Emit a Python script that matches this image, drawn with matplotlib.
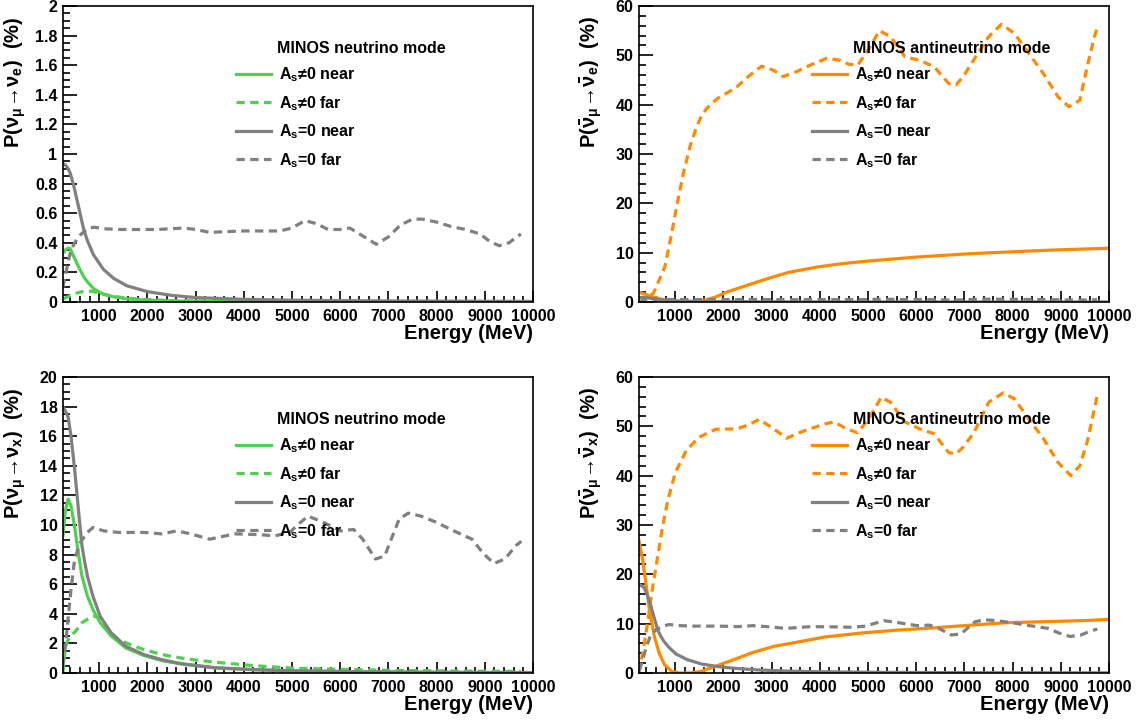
import matplotlib
matplotlib.use("Agg")
import matplotlib.pyplot as plt
from matplotlib.ticker import MultipleLocator, FuncFormatter

plt.rcParams['font.family'] = ['Liberation Sans', 'DejaVu Sans']
plt.rcParams['font.weight'] = 'bold'
plt.rcParams['mathtext.fontset'] = 'custom'
plt.rcParams['mathtext.rm'] = 'Liberation Sans:bold'
plt.rcParams['mathtext.it'] = 'Liberation Sans:bold'
plt.rcParams['mathtext.bf'] = 'Liberation Sans:bold'

# ---------------- data ----------------
# neutrino mode, nu_mu -> nu_e (%)
E_e_gnear = [250, 300, 360, 400, 470, 540, 610, 680, 760, 880, 1000, 1090, 1300, 1570, 1800, 2200, 2700, 3500, 5000, 7000, 10000]
P_e_gnear = [0.33, 0.35, 0.365, 0.36, 0.31, 0.26, 0.215, 0.17, 0.135, 0.092, 0.068, 0.052, 0.035, 0.022, 0.016, 0.010, 0.006, 0.004, 0.002, 0.001, 0.0005]
E_e_gfar = [250, 350, 450, 550, 650, 750, 850, 950, 1100, 1300, 1600, 2000, 2500, 3000, 4000, 6000, 9750]
P_e_gfar = [0.02, 0.035, 0.05, 0.062, 0.07, 0.074, 0.072, 0.065, 0.052, 0.038, 0.025, 0.016, 0.01, 0.007, 0.004, 0.002, 0.001]
E_e_near0 = [250, 300, 350, 400, 470, 540, 610, 680, 750, 880, 1090, 1300, 1570, 2000, 2500, 3000, 4000, 5000, 7000, 10000]
P_e_near0 = [0.935, 0.925, 0.905, 0.87, 0.79, 0.69, 0.59, 0.49, 0.42, 0.32, 0.22, 0.16, 0.11, 0.07, 0.045, 0.03, 0.018, 0.012, 0.007, 0.004]
E_e_far0 = [250, 300, 350, 400, 460, 530, 600, 700, 800, 900, 1100, 1400, 1800, 2200, 2500, 2750, 3000, 3300, 3600, 4000, 4400, 4750, 5000, 5270, 5500, 5750, 6000, 6200, 6450, 6750, 7000, 7250, 7500, 7700, 8000, 8300, 8600, 8900, 9100, 9300, 9500, 9750]
P_e_far0 = [0.10, 0.18, 0.26, 0.33, 0.38, 0.42, 0.45, 0.48, 0.50, 0.505, 0.495, 0.49, 0.49, 0.49, 0.495, 0.50, 0.49, 0.47, 0.475, 0.48, 0.48, 0.48, 0.50, 0.55, 0.53, 0.49, 0.49, 0.50, 0.45, 0.39, 0.44, 0.52, 0.56, 0.56, 0.54, 0.51, 0.49, 0.46, 0.41, 0.38, 0.40, 0.46]

# neutrino mode, nu_mu -> nu_x (%)
E_x_gnear = [250, 300, 356, 416, 490, 568, 643, 757, 870, 1020, 1250, 1550, 1930, 2300, 2700, 3400, 4200, 5000, 6500, 8000, 10000]
P_x_gnear = [9.3, 11.0, 11.75, 11.3, 9.9, 8.1, 6.55, 5.2, 4.3, 3.4, 2.5, 1.7, 1.18, 0.84, 0.61, 0.34, 0.22, 0.14, 0.07, 0.04, 0.02]
E_x_gfar = [250, 303, 350, 416, 530, 643, 795, 908, 1000, 1100, 1250, 1400, 1700, 1930, 2300, 2686, 3000, 3442, 4199, 4955, 5700, 7000, 8500, 9750]
P_x_gfar = [0.0, 1.8, 2.2, 2.5, 2.9, 3.4, 3.7, 3.85, 3.7, 3.2, 2.7, 2.26, 1.85, 1.58, 1.25, 1.02, 0.88, 0.72, 0.50, 0.34, 0.27, 0.18, 0.13, 0.11]
E_x_near0 = [250, 300, 356, 416, 490, 568, 643, 700, 757, 870, 1020, 1250, 1550, 1930, 2300, 2700, 3400, 4200, 5000, 6500, 8000, 10000]
P_x_near0 = [17.97, 17.7, 17.3, 16.0, 13.8, 11.1, 8.6, 7.5, 6.55, 5.2, 3.84, 2.71, 1.81, 1.24, 0.90, 0.63, 0.36, 0.23, 0.15, 0.08, 0.05, 0.03]
E_x_far0 = [250, 300, 341, 416, 492, 605, 757, 870, 1000, 1100, 1400, 1930, 2300, 2610, 2900, 3290, 3820, 4300, 4650, 4955, 5150, 5333, 5636, 6014, 6279, 6468, 6733, 6922, 7224, 7413, 7678, 7980, 8358, 8736, 8963, 9190, 9417, 9644, 9758]
P_x_far0 = [0.5, 1.8, 3.2, 5.65, 7.7, 8.8, 9.5, 9.83, 9.7, 9.6, 9.5, 9.5, 9.4, 9.6, 9.4, 9.04, 9.4, 9.35, 9.27, 9.5, 10.1, 10.6, 10.2, 9.6, 9.7, 9.04, 7.7, 7.9, 10.4, 10.8, 10.6, 10.2, 9.6, 9.04, 8.1, 7.4, 7.7, 8.6, 8.9]

# antineutrino mode, nubar_mu -> nubar_e (%)
E_ae_onear = [250, 400, 552, 700, 855, 1000, 1100, 1300, 1535, 1700, 1837, 2064, 2593, 2971, 3349, 3953, 4483, 5012, 5994, 7128, 8262, 9018, 10000]
P_ae_onear = [2.0, 1.5, 1.0, 0.6, 0.34, 0.1, 0.0, 0.0, 0.2, 0.6, 1.0, 2.0, 3.7, 4.9, 6.0, 7.1, 7.8, 8.3, 9.1, 9.8, 10.3, 10.6, 10.9]
E_ae_ofar = [250, 305, 400, 547, 650, 789, 927, 1030, 1169, 1307, 1445, 1550, 1653, 1800, 1930, 2100, 2276, 2552, 2794, 3036, 3244, 3520, 3797, 4143, 4420, 4600, 4785, 5000, 5238, 5465, 5767, 6070, 6372, 6674, 6825, 6977, 7279, 7506, 7770, 8035, 8337, 8640, 8942, 9169, 9396, 9547, 9698, 9773]
P_ae_ofar = [0, 0.2, 0.8, 1.76, 4.0, 7.2, 13.9, 19.3, 26, 31.5, 35.5, 37.8, 39.2, 40.6, 41.6, 42.5, 43.6, 46, 47.8, 47.0, 45.7, 46.7, 48, 49.4, 49, 48.2, 48, 51, 55, 53.8, 49.7, 49, 47.7, 44.3, 44, 45.7, 50.4, 53.8, 56.3, 54.5, 50.4, 46.3, 41.6, 39.6, 40.9, 47.7, 53.8, 56.1]

# antineutrino mode, nubar_mu -> nubar_x (%)
E_ax_onear = [250, 326, 401, 477, 567, 666, 779, 930, 1081, 1308, 1535, 1837, 2215, 2593, 3046, 3500, 4105, 4860, 5616, 6372, 7128, 7884, 8640, 9396, 10000]
P_ax_onear = [26.8, 23.0, 17.6, 12.2, 7.5, 4.1, 1.7, 0.34, 0.0, 0.0, 0.34, 1.36, 2.7, 4.1, 5.4, 6.2, 7.3, 8.1, 8.7, 9.15, 9.7, 10.2, 10.4, 10.6, 10.85]
E_ax_ofar = [250, 363, 439, 515, 628, 741, 855, 1006, 1232, 1497, 1837, 2290, 2517, 2744, 3046, 3311, 3651, 4105, 4294, 4558, 4785, 5012, 5277, 5465, 5767, 6070, 6372, 6674, 6825, 6977, 7203, 7506, 7808, 8035, 8337, 8640, 8942, 9207, 9396, 9547, 9698, 9758]
P_ax_ofar = [0, 6.1, 10.8, 16.3, 23, 29.8, 35.3, 40.7, 45.1, 47.8, 49.4, 49.5, 50.3, 51.4, 49.5, 47.6, 49, 50.5, 50.9, 49.5, 48.7, 51.5, 55.9, 54.9, 50.9, 49.5, 48.5, 44.7, 44.4, 45.8, 48.8, 54.9, 56.8, 55.6, 51.5, 47.5, 42.7, 40, 42, 46.8, 53.6, 56.3]

x_range = (250, 10000)
x_ticks = [1000, 2000, 3000, 4000, 5000, 6000, 7000, 8000, 9000, 10000]
legend_labels = [r'A$_{s}$≠0 near', r'A$_{s}$≠0 far', r'A$_{s}$=0 near', r'A$_{s}$=0 far']

GREEN = '#50d050'
ORANGE = '#ff8a00'
GRAY = '#808080'
LW = 2.3
DASH = (0, (2.6, 1.7))

fig = plt.figure(figsize=(11.41, 7.23), dpi=100)
W, H = 1141.0, 723.0

def make_ax(x0, y0):
    return fig.add_axes([x0 / W, 1 - (y0 + 296) / H, 470 / W, 296 / H])

panels = [
    dict(pos=(63, 6), ymax=2, major=0.2, minor=0.05, col=GREEN,
         title='MINOS neutrino mode',
         ylabel=r'P($\nu_{\mu}\!\rightarrow\!\nu_{e}$)  (%)',
         curves=[(E_e_gnear, P_e_gnear), (E_e_gfar, P_e_gfar), (E_e_near0, P_e_near0), (E_e_far0, P_e_far0)]),
    dict(pos=(639, 6), ymax=60, major=10, minor=2, col=ORANGE,
         title='MINOS antineutrino mode',
         ylabel=r'P($\bar{\nu}_{\mu}\!\rightarrow\!\bar{\nu}_{e}$)  (%)',
         curves=[(E_ae_onear, P_ae_onear), (E_ae_ofar, P_ae_ofar), (E_e_near0, P_e_near0), (E_e_far0, P_e_far0)]),
    dict(pos=(63, 377), ymax=20, major=2, minor=0.5, col=GREEN,
         title='MINOS neutrino mode',
         ylabel=r'P($\nu_{\mu}\!\rightarrow\!\nu_{x}$)  (%)',
         curves=[(E_x_gnear, P_x_gnear), (E_x_gfar, P_x_gfar), (E_x_near0, P_x_near0), (E_x_far0, P_x_far0)]),
    dict(pos=(639, 377), ymax=60, major=10, minor=2, col=ORANGE,
         title='MINOS antineutrino mode',
         ylabel=r'P($\bar{\nu}_{\mu}\!\rightarrow\!\bar{\nu}_{x}$)  (%)',
         curves=[(E_ax_onear, P_ax_onear), (E_ax_ofar, P_ax_ofar), (E_x_near0, P_x_near0), (E_x_far0, P_x_far0)]),
]

for p in panels:
    ax = make_ax(*p['pos'])
    cols = [p['col'], p['col'], GRAY, GRAY]
    styles = ['-', DASH, '-', DASH]
    handles = []
    for (E, P), c, s, lab in zip(p['curves'], cols, styles, legend_labels):
        h, = ax.plot(E, P, color=c, lw=LW, ls=s, label=lab)
        handles.append(h)
    ax.set_xlim(*x_range)
    ax.set_ylim(0, p['ymax'])
    ax.set_xticks(x_ticks)
    ax.xaxis.set_minor_locator(MultipleLocator(200))
    ax.yaxis.set_major_locator(MultipleLocator(p['major']))
    ax.yaxis.set_minor_locator(MultipleLocator(p['minor']))
    ax.yaxis.set_major_formatter(FuncFormatter(lambda v, pos: '%g' % round(v, 6)))
    ax.tick_params(axis='both', which='both', direction='in', top=False, right=False,
                   labelsize=11.5, width=1.2)
    ax.tick_params(axis='y', which='major', length=10, pad=4)
    ax.tick_params(axis='y', which='minor', length=5)
    ax.tick_params(axis='x', which='major', length=8, pad=5)
    ax.tick_params(axis='x', which='minor', length=4)
    for lab in ax.get_xticklabels() + ax.get_yticklabels():
        lab.set_fontweight('bold')
    for sp in ax.spines.values():
        sp.set_linewidth(1.2)
    ax.set_xlabel('Energy (MeV)', fontsize=14.5, fontweight='bold', loc='right')
    ax.xaxis.set_label_coords(1.0, -0.075)
    ax.set_ylabel(p['ylabel'], fontsize=14.5, fontweight='bold', loc='top')
    ax.yaxis.set_label_coords(-0.075, 0.965)
    ax.text(0.455, 0.858, p['title'], transform=ax.transAxes, fontsize=11.5,
            fontweight='bold', ha='left', va='center')
    ax.legend(handles=handles, loc='upper left', bbox_to_anchor=(0.368, 0.80),
              frameon=False, handlelength=2.2, handletextpad=0.5,
              labelspacing=0.62, borderpad=0, borderaxespad=0,
              prop=dict(weight='bold', size=11.5))

fig.savefig('out.png', dpi=100)
